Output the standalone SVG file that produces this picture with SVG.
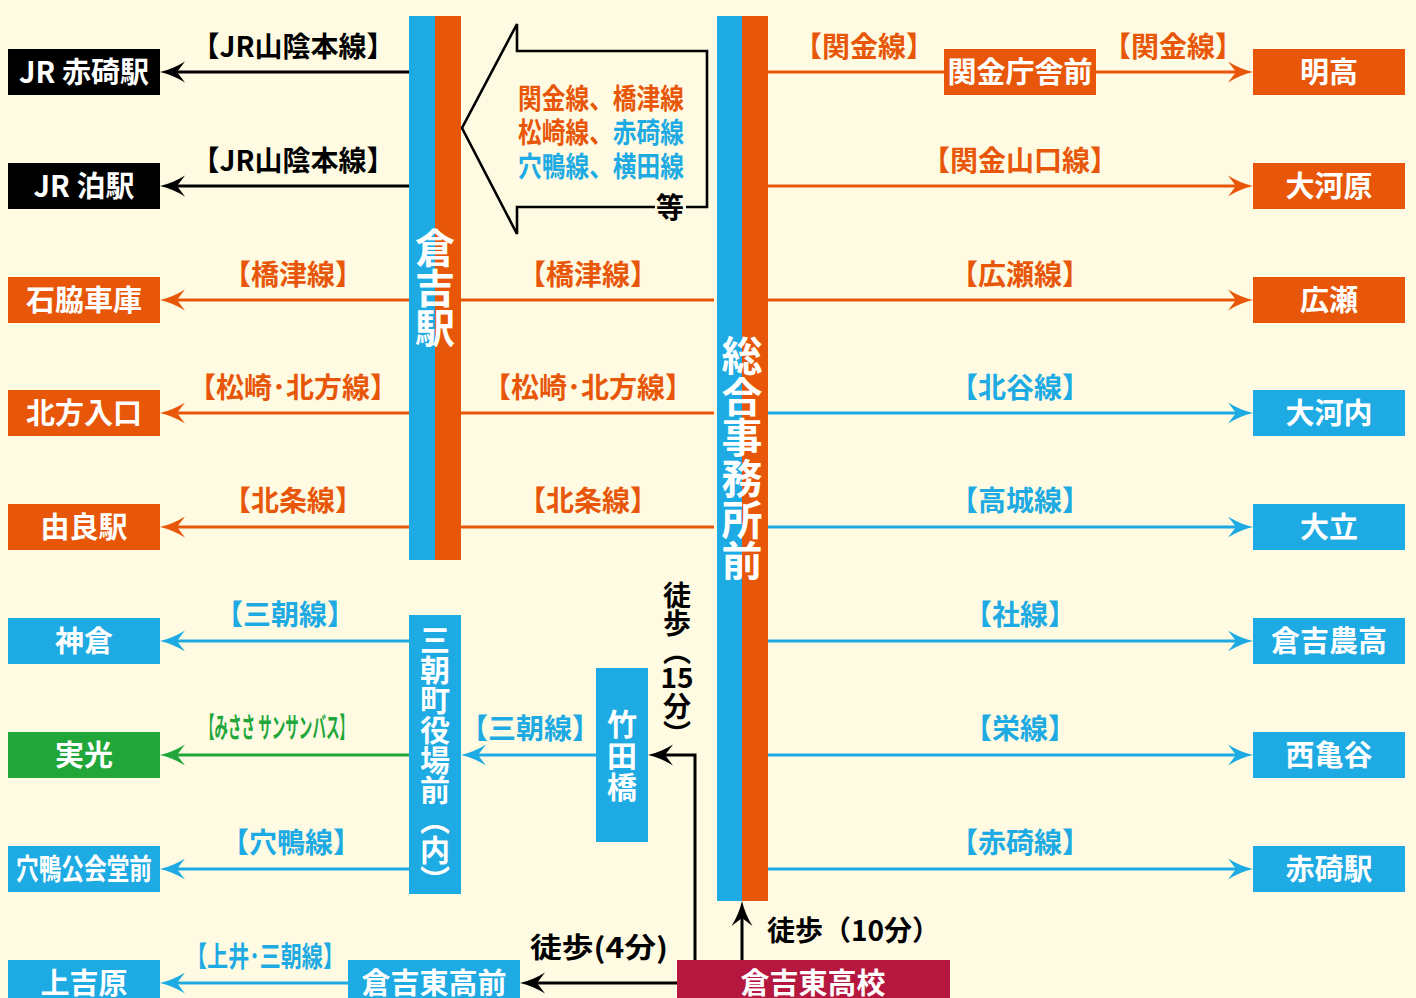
<svg xmlns="http://www.w3.org/2000/svg" width="1416" height="998" viewBox="0 0 1416 998">
<style>
.bg{fill:#fefbe2}
.o{fill:#e85709}.b{fill:#1eaae2}.g{fill:#21a63a}.k{fill:#000}.r{fill:#b5173e}
.so{stroke:#e85709}.sb{stroke:#1eaae2}.sg{stroke:#21a63a}.sk{stroke:#000}
.ln{fill:none;stroke-width:3}
.bt{font-family:"Noto Sans CJK JP","Noto Sans",sans-serif;font-weight:700;font-size:29px;fill:#fff;text-anchor:middle}
.vt{font-family:"Noto Sans CJK JP","Noto Sans",sans-serif;font-weight:700;fill:#fff;writing-mode:vertical-rl;text-anchor:start}
.vk{font-family:"Noto Sans CJK JP","Noto Sans",sans-serif;font-weight:700;font-size:28px;fill:#000;writing-mode:vertical-rl;text-anchor:start}
.lb{font-family:"Noto Sans CJK JP","Noto Sans",sans-serif;font-weight:700;font-size:28px;text-anchor:middle}
.tx{font-family:"Noto Sans CJK JP","Noto Sans",sans-serif;font-weight:700;font-size:28px}
.fo{fill:#e85709}.fb{fill:#1eaae2}.fg{fill:#21a63a}.fk{fill:#000}
</style>
<defs>
<path id="ah" d="M17,0 Q4,-3 -8,-10.5 L0,0 L-8,10.5 Q4,3 17,0 Z"/>
<marker id="ak" markerUnits="userSpaceOnUse" markerWidth="30" markerHeight="24" viewBox="-9 -12 30 24" refX="0" refY="0" orient="auto" overflow="visible"><use href="#ah" fill="#000"/></marker>
<marker id="ao" markerUnits="userSpaceOnUse" markerWidth="30" markerHeight="24" viewBox="-9 -12 30 24" refX="0" refY="0" orient="auto" overflow="visible"><use href="#ah" fill="#e85709"/></marker>
<marker id="ab" markerUnits="userSpaceOnUse" markerWidth="30" markerHeight="24" viewBox="-9 -12 30 24" refX="0" refY="0" orient="auto" overflow="visible"><use href="#ah" fill="#1eaae2"/></marker>
<marker id="ag" markerUnits="userSpaceOnUse" markerWidth="30" markerHeight="24" viewBox="-9 -12 30 24" refX="0" refY="0" orient="auto" overflow="visible"><use href="#ah" fill="#21a63a"/></marker>
</defs>
<rect class="bg" x="0" y="0" width="1416" height="998"/>

<g id="connectors">
<path class="ln sk" d="M409,72 H177" marker-end="url(#ak)"/>
<path class="ln sk" d="M409,186 H177" marker-end="url(#ak)"/>
<path class="ln so" d="M409,300 H177" marker-end="url(#ao)"/>
<path class="ln so" d="M409,413 H177" marker-end="url(#ao)"/>
<path class="ln so" d="M409,527 H177" marker-end="url(#ao)"/>
<path class="ln so" d="M461,300 H714"/>
<path class="ln so" d="M461,413 H714"/>
<path class="ln so" d="M461,527 H714"/>
<path class="ln sb" d="M409,641 H177" marker-end="url(#ab)"/>
<path class="ln sg" d="M409,755 H177" marker-end="url(#ag)"/>
<path class="ln sb" d="M409,869 H177" marker-end="url(#ab)"/>
<path class="ln sb" d="M596,755 H478" marker-end="url(#ab)"/>
<path class="ln sb" d="M348,983 H177" marker-end="url(#ab)"/>
<path class="ln sk" d="M677,983 H537" marker-end="url(#ak)"/>
<path class="ln sk" d="M695,960 V755 H665" marker-end="url(#ak)"/>
<path class="ln sk" d="M742,960 V918" marker-end="url(#ak)"/>
<path class="ln so" d="M768,72 H944"/>
<path class="ln so" d="M1096,72 H1236" marker-end="url(#ao)"/>
<path class="ln so" d="M768,186 H1236" marker-end="url(#ao)"/>
<path class="ln so" d="M768,300 H1236" marker-end="url(#ao)"/>
<path class="ln sb" d="M768,413 H1236" marker-end="url(#ab)"/>
<path class="ln sb" d="M768,527 H1236" marker-end="url(#ab)"/>
<path class="ln sb" d="M768,641 H1236" marker-end="url(#ab)"/>
<path class="ln sb" d="M768,755 H1236" marker-end="url(#ab)"/>
<path class="ln sb" d="M768,869 H1236" marker-end="url(#ab)"/>
<path fill="none" stroke="#000" stroke-width="2.6" stroke-linejoin="miter" d="M655,207 H517 V234 L462,128 L517,24 V51 H707 V207 H686"/>
</g>

<g id="labels">
<text class="lb fk" x="293" y="57">【JR山陰本線】</text>
<text class="lb fk" x="293" y="171">【JR山陰本線】</text>
<text class="lb fo" x="293" y="285">【橋津線】</text>
<text class="lb fo" x="293" y="398">【松崎･北方線】</text>
<text class="lb fo" x="293" y="511">【北条線】</text>
<text class="lb fo" x="588" y="285">【橋津線】</text>
<text class="lb fo" x="588" y="398">【松崎･北方線】</text>
<text class="lb fo" x="588" y="511">【北条線】</text>
<text class="lb fb" x="285" y="625">【三朝線】</text>
<text class="lb fg" x="277" y="738" font-size="29" textLength="152" lengthAdjust="spacingAndGlyphs">【みささ サンサンバス】</text>
<text class="lb fb" x="291" y="853">【穴鴨線】</text>
<text class="lb fb" x="265" y="967" textLength="158" lengthAdjust="spacingAndGlyphs">【上井･三朝線】</text>
<text class="lb fb" x="530" y="739" font-size="26">【三朝線】</text>
<text class="lb fo" x="864" y="57">【関金線】</text>
<text class="lb fo" x="1173" y="57">【関金線】</text>
<text class="lb fo" x="1020" y="171">【関金山口線】</text>
<text class="lb fo" x="1020" y="285">【広瀬線】</text>
<text class="lb fb" x="1020" y="398">【北谷線】</text>
<text class="lb fb" x="1020" y="511">【高城線】</text>
<text class="lb fb" x="1020" y="625">【社線】</text>
<text class="lb fb" x="1020" y="739">【栄線】</text>
<text class="lb fb" x="1020" y="853">【赤碕線】</text>
<text class="tx fo" x="518" y="109" font-size="30" textLength="166" lengthAdjust="spacingAndGlyphs">関金線、橋津線</text>
<text class="tx" x="518" y="143" font-size="30" textLength="166" lengthAdjust="spacingAndGlyphs"><tspan class="fo">松崎線、</tspan><tspan class="fb">赤碕線</tspan></text>
<text class="tx fb" x="518" y="177" font-size="30" textLength="166" lengthAdjust="spacingAndGlyphs">穴鴨線、横田線</text>
<text class="tx fk" x="670" y="218" text-anchor="middle">等</text>
<text class="tx fk" x="599" y="958" text-anchor="middle" textLength="138" lengthAdjust="spacingAndGlyphs">徒歩(4分)</text>
<text class="tx fk" x="767" y="941">徒歩（10分）</text>
<g id="walk15">
<text class="vk" x="677" y="581">徒歩（</text>
<text class="tx fk" x="677" y="688" font-size="32" text-anchor="middle">15</text>
<text class="vk" x="677" y="692">分）</text>
</g>
</g>

<g id="bar-kurayoshi">
<rect class="b" x="409" y="16" width="26" height="544"/>
<rect class="o" x="435" y="16" width="26" height="544"/>
<text class="vt" x="435" y="228" font-size="40">倉吉駅</text>
</g>
<g id="bar-sogo">
<rect class="b" x="717" y="16" width="25" height="885"/>
<rect class="o" x="742" y="16" width="26" height="885"/>
<text class="vt" x="742" y="335" font-size="41">総合事務所前</text>
</g>
<g id="misasa">
<rect class="b" x="409" y="615" width="52" height="279"/>
<text class="vt" x="435" y="625" font-size="30">三朝町役場前（内）</text>
</g>
<g id="takedabashi">
<rect class="b" x="596" y="668" width="52" height="174"/>
<text class="vt" x="622" y="709" font-size="30" letter-spacing="1.5">竹田橋</text>
</g>

<g id="n-jr-akasaki"><rect class="k" x="8" y="49" width="152" height="46"/><text class="bt" x="84" y="83">JR 赤碕駅</text></g>
<g id="n-jr-tomari"><rect class="k" x="8" y="163" width="152" height="46"/><text class="bt" x="84" y="197">JR 泊駅</text></g>
<g id="n-ishiwaki"><rect class="o" x="8" y="277" width="152" height="46"/><text class="bt" x="84" y="311">石脇車庫</text></g>
<g id="n-hokata"><rect class="o" x="8" y="390" width="152" height="46"/><text class="bt" x="84" y="424">北方入口</text></g>
<g id="n-yura"><rect class="o" x="8" y="504" width="152" height="46"/><text class="bt" x="84" y="538">由良駅</text></g>
<g id="n-kanokura"><rect class="b" x="8" y="618" width="152" height="46"/><text class="bt" x="84" y="652">神倉</text></g>
<g id="n-jikko"><rect class="g" x="8" y="732" width="152" height="46"/><text class="bt" x="84" y="766">実光</text></g>
<g id="n-kamo"><rect class="b" x="8" y="846" width="152" height="46"/><text class="bt" x="84" y="880" textLength="136" lengthAdjust="spacingAndGlyphs">穴鴨公会堂前</text></g>
<g id="n-kamiyoshihara"><rect class="b" x="8" y="960" width="152" height="46"/><text class="bt" x="84" y="994" font-size="30">上吉原</text></g>
<g id="n-higashikomae"><rect class="b" x="348" y="960" width="172" height="46"/><text class="bt" x="434" y="994" font-size="30">倉吉東高前</text></g>
<g id="n-higashiko"><rect class="r" x="677" y="960" width="273" height="46"/><text class="bt" x="813" y="994" font-size="30">倉吉東高校</text></g>
<g id="n-sekigane"><rect class="o" x="944" y="49" width="152" height="46"/><text class="bt" x="1020" y="83" font-size="28">関金庁舎前</text></g>
<g id="n-myoko"><rect class="o" x="1253" y="49" width="152" height="46"/><text class="bt" x="1329" y="83">明高</text></g>
<g id="n-okawara"><rect class="o" x="1253" y="163" width="152" height="46"/><text class="bt" x="1329" y="197">大河原</text></g>
<g id="n-hirose"><rect class="o" x="1253" y="277" width="152" height="46"/><text class="bt" x="1329" y="311">広瀬</text></g>
<g id="n-okochi"><rect class="b" x="1253" y="390" width="152" height="46"/><text class="bt" x="1329" y="424">大河内</text></g>
<g id="n-odachi"><rect class="b" x="1253" y="504" width="152" height="46"/><text class="bt" x="1329" y="538">大立</text></g>
<g id="n-nouko"><rect class="b" x="1253" y="618" width="152" height="46"/><text class="bt" x="1329" y="652">倉吉農高</text></g>
<g id="n-nishikamedani"><rect class="b" x="1253" y="732" width="152" height="46"/><text class="bt" x="1329" y="766">西亀谷</text></g>
<g id="n-akasaki"><rect class="b" x="1253" y="846" width="152" height="46"/><text class="bt" x="1329" y="880">赤碕駅</text></g>
</svg>
